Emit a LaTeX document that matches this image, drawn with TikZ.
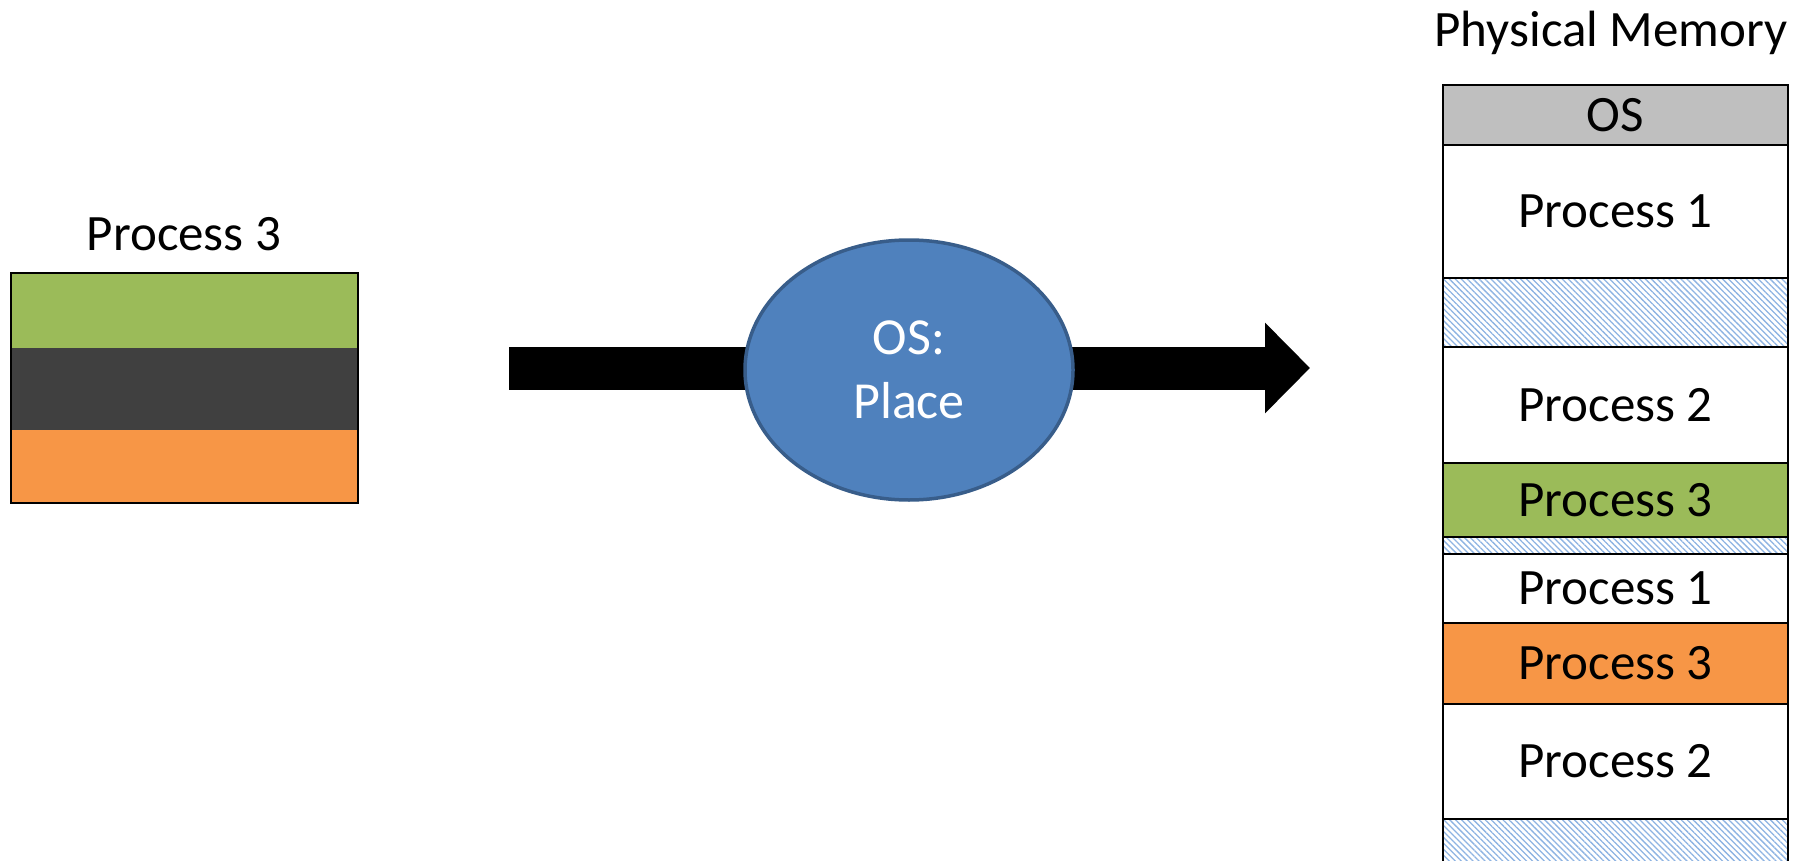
\documentclass[tikz,border=0pt]{standalone}
\usepackage{fontspec}
\setmainfont{Carlito}
\usetikzlibrary{arrows.meta,patterns.meta,shapes.geometric}
\definecolor{pgreen}{HTML}{9BBB59}
\definecolor{pdark}{HTML}{404040}
\definecolor{porange}{HTML}{F79646}
\definecolor{osgray}{HTML}{BFBFBF}
\definecolor{hatchblue}{HTML}{8DB3E2}
\definecolor{ellfill}{HTML}{4F81BD}
\definecolor{elldraw}{HTML}{385D8A}
\newcommand\memfont{\fontsize{51}{60}\selectfont}
\newcommand\ellfont{\fontsize{52}{64}\selectfont}
\begin{document}
\begin{tikzpicture}[x=1pt,y=-1pt,
  memseg/.style={draw=black, line width=2.5pt, minimum width=345pt, inner sep=0pt, outer sep=0pt, font=\memfont, rectangle},
  freeseg/.style={memseg, pattern={Lines[angle=-45,distance=4.2pt,line width=1.3pt]}, pattern color=hatchblue},
  procpart/.style={rectangle, minimum width=347pt, inner sep=0pt, outer sep=0pt},
  label/.style={font=\memfont, inner sep=0pt},
  bigarrow/.style={line width=43pt, -{Triangle[length=45pt,width=88pt]}},
  placeell/.style={ellipse, minimum width=328pt, minimum height=260pt, inner sep=0pt, fill=ellfill, draw=elldraw, line width=3.5pt, text=white, font=\ellfont, align=center}
]
\useasboundingbox (0,0) rectangle (1803,861);
\clip (0,0) rectangle (1803,861);

% left: Process 3
\node[label, anchor=base] (p3title) at (184,250) {Process 3};
\node[procpart, fill=pgreen, minimum height=75pt] (pg) at (184.5,310.5) {};
\node[procpart, fill=pdark, minimum height=82pt] (pd) at (184.5,389) {};
\node[procpart, fill=porange, minimum height=73pt] (po) at (184.5,466.5) {};
\draw[line width=1.5pt] (pg.north west) rectangle (po.south east);

% arrow and OS: Place
\coordinate (astart) at (509,368);
\coordinate (aend) at (1310,368);
\draw[bigarrow] (astart) -- (aend);
\node[placeell] (place) at (909,370) {OS:\\Place};

% physical memory
\node[label, anchor=base] (pmtitle) at (1611,47) {Physical Memory};
\node[memseg, fill=osgray, minimum height=60pt] (mos) at (1615.5,115) {OS};
\node[memseg, fill=white, minimum height=133pt] (m1) at (1615.5,211.5) {Process 1};
\node[freeseg, minimum height=69pt] (f1) at (1615.5,312.5) {};
\node[memseg, fill=white, minimum height=116pt] (m2) at (1615.5,405) {Process 2};
\node[memseg, fill=pgreen, minimum height=74pt] (m3) at (1615.5,500) {Process 3};
\node[freeseg, minimum height=17pt] (f2) at (1615.5,545.5) {};
\node[memseg, fill=white, minimum height=69pt] (m4) at (1615.5,588.5) {Process 1};
\node[memseg, fill=porange, minimum height=81pt] (m5) at (1615.5,663.5) {Process 3};
\node[memseg, fill=white, minimum height=115pt] (m6) at (1615.5,761.5) {Process 2};
\node[freeseg, minimum height=60pt] (f3) at (1615.5,849) {};
\end{tikzpicture}
\end{document}
